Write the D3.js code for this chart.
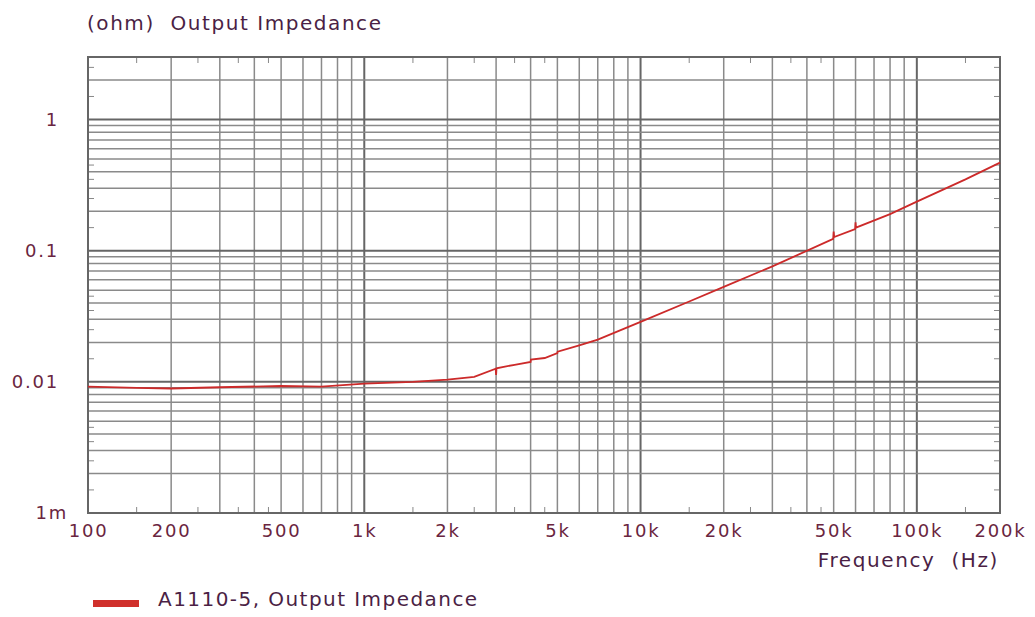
<!DOCTYPE html>
<html><head><meta charset="utf-8">
<script src="https://cdn.jsdelivr.net/npm/d3@7"></script>
<style>
html,body{margin:0;padding:0;background:#fff;}
svg text{font-family:"DejaVu Sans",Verdana,sans-serif;}
</style></head>
<body>
<svg id="c" width="1035" height="617"></svg>
<script>
// ---- data ----
const title = "(ohm)  Output Impedance";
const xTitle = "Frequency  (Hz)";
const seriesName = "A1110-5, Output Impedance";
const xTickValues = [100, 200, 500, 1000, 2000, 5000, 10000, 20000, 50000, 100000, 200000];
const xTickLabels = ["100", "200", "500", "1k", "2k", "5k", "10k", "20k", "50k", "100k", "200k"];
const yTickValues = [0.001, 0.01, 0.1, 1];
const yTickLabels = ["1m", "0.01", "0.1", "1"];
const freq = [100, 150, 200, 300, 500, 700, 1000, 1500, 2000, 2500, 2990, 3000, 3010, 3500, 4000, 4010, 4500, 5000, 5010, 6000, 7000, 10000, 15000, 20000, 30000, 49800, 50000, 50200, 59800, 60000, 60200, 80000, 100000, 150000, 200000];
const impedance = [0.0092, 0.009, 0.0089, 0.0091, 0.0093, 0.0092, 0.0097, 0.01, 0.0104, 0.0109, 0.0126, 0.0113, 0.0127, 0.0135, 0.0142, 0.0148, 0.0152, 0.0166, 0.0170, 0.019, 0.021, 0.0287, 0.041, 0.053, 0.076, 0.123, 0.14, 0.127, 0.146, 0.165, 0.15, 0.19, 0.237, 0.35, 0.47];

// ---- layout ----
const svg = d3.select("#c");
const L = 88, R = 1000, T = 57, B = 513;
const x = d3.scaleLog().domain([100, 200000]).range([L, R]);
const y = d3.scaleLog().domain([0.001, 3]).range([B, T]);
const textCol = "#4b1f45";
const numCol = "#6a2540";

// grid
const vLines = [];
for (let d = 100; d <= 100000; d *= 10) for (let m = 1; m <= 9; m++) { const v = d * m; if (v > 100 && v < 200000) vLines.push(v); }
const hLines = [];
for (let d = 0.001; d <= 1.0001; d *= 10) for (let m = 1; m <= 9; m++) { const v = +(d * m).toPrecision(3); if (v > 0.001 && v < 3) hLines.push(v); }
const isDecade = v => Math.abs(Math.log10(v) - Math.round(Math.log10(v))) < 1e-6;

const g = svg.append("g");
g.selectAll(".vl").data(vLines).enter().append("line")
  .attr("x1", d => x(d)).attr("x2", d => x(d)).attr("y1", T).attr("y2", B)
  .attr("stroke", d => isDecade(d) ? "#666" : "#8a8a8a").attr("stroke-width", d => isDecade(d) ? 2 : 1.5);
g.selectAll(".hl").data(hLines).enter().append("line")
  .attr("y1", d => y(d)).attr("y2", d => y(d)).attr("x1", L).attr("x2", R)
  .attr("stroke", d => isDecade(d) ? "#666" : "#8a8a8a").attr("stroke-width", d => isDecade(d) ? 2 : 1.5);

// minor ticks
const xMinor = [];
for (let d = 100; d <= 100000; d *= 10) [1.5, 2.5, 3.5, 4.5].forEach(m => { if (d * m < 200000) xMinor.push(d * m); });
const yMinor = [];
for (let d = 0.001; d <= 1.0001; d *= 10) [1.5, 2.5, 3.5, 4.5].forEach(m => { const v = d * m; if (v < 3) yMinor.push(v); });
g.selectAll(".xm").data(xMinor).enter().append("path")
  .attr("d", d => `M${x(d)},${B}v-6M${x(d)},${T}v6`).attr("stroke", "#888").attr("stroke-width", 1);
g.selectAll(".ym").data(yMinor).enter().append("path")
  .attr("d", d => `M${L},${y(d)}h6M${R},${y(d)}h-6`).attr("stroke", "#888").attr("stroke-width", 1);

// frame
g.append("rect").attr("x", L).attr("y", T).attr("width", R - L).attr("height", B - T)
  .attr("fill", "none").attr("stroke", "#666").attr("stroke-width", 2);

// axes labels via d3 axes
const xAxis = d3.axisBottom(x).tickValues(xTickValues).tickFormat((d, i) => xTickLabels[i]).tickSize(0).tickPadding(0);
const xa = svg.append("g").attr("transform", `translate(0,${B + 18})`).call(xAxis);
xa.select(".domain").remove();
xa.selectAll("text").attr("fill", numCol).attr("font-size", 18).attr("letter-spacing", 1.8)
  .attr("dy", "0.35em");

const yAxis = d3.axisLeft(y).tickValues(yTickValues).tickFormat(d => yTickLabels[yTickValues.indexOf(d)]).tickSize(0).tickPadding(0);
const ya = svg.append("g").attr("transform", `translate(59,0)`).call(yAxis);
ya.select(".domain").remove();
ya.selectAll("text").attr("fill", numCol).attr("font-size", 18).attr("letter-spacing", 1.8);
ya.selectAll(".tick").filter(d => d === 0.001).attr("transform", `translate(9,${B})`);

// titles
svg.append("text").attr("x", 87).attr("y", 30).attr("fill", textCol).attr("font-size", 20)
  .style("white-space", "pre").attr("letter-spacing", 1.55).text(title);
svg.append("text").attr("x", 999).attr("y", 567).attr("text-anchor", "end").attr("fill", textCol).attr("font-size", 20)
  .style("white-space", "pre").attr("letter-spacing", 1.6).text(xTitle);

// series
const pts = freq.map((f, i) => [f, impedance[i]]);
svg.append("path").datum(pts)
  .attr("d", d3.line().x(d => x(d[0])).y(d => y(d[1])))
  .attr("fill", "none").attr("stroke", "#cc2a2a").attr("stroke-width", 1.8);

// legend
svg.append("rect").attr("x", 93).attr("y", 600).attr("width", 46).attr("height", 7).attr("fill", "#d0302c");
svg.append("text").attr("x", 158).attr("y", 606).attr("fill", textCol).attr("font-size", 20)
  .attr("letter-spacing", 1.45).text(seriesName);
</script>
</body></html>
